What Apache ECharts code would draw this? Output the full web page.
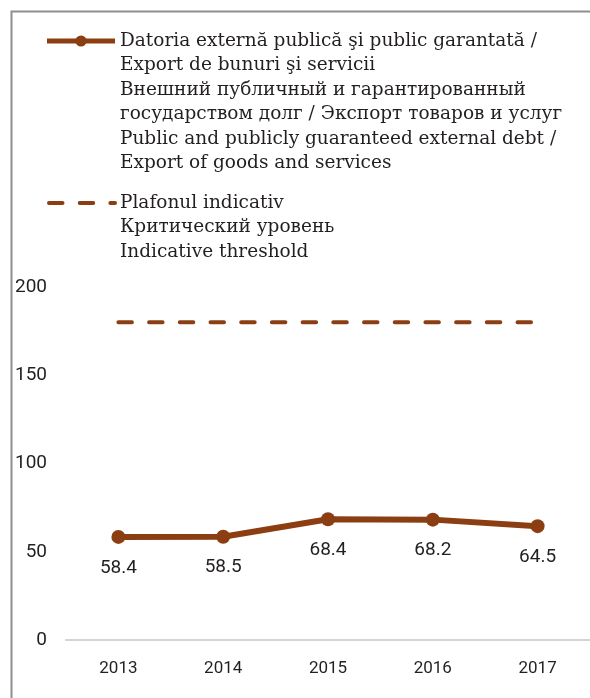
<!DOCTYPE html>
<html>
<head>
<meta charset="utf-8">
<script src="https://cdn.jsdelivr.net/npm/echarts@6/dist/echarts.min.js"></script>
<style>
html,body{margin:0;padding:0;background:#fff;}
#chart{width:590px;height:698px;}
</style>
</head>
<body>
<div id="chart"></div>
<script>
const years = ['2013', '2014', '2015', '2016', '2017'];
const debtToExport = [58.4, 58.5, 68.4, 68.2, 64.5];
const threshold = [180, 180, 180, 180, 180];
const yMin = 0, yMax = 200, yStep = 50;

const debtName = 'Datoria externă publică şi public garantată /\nExport de bunuri şi servicii\nВнешний публичный и гарантированный\nгосударством долг / Экспорт товаров и услуг\nPublic and publicly guaranteed external debt /\nExport of goods and services';
const thresholdName = 'Plafonul indicativ\nКритический уровень\nIndicative threshold';

const brown = '#8b3e12';
const ink = '#231f20';
const LH = 24.5;
const numFont = 'Roboto';
const serif = 'DejaVu Serif';

const chart = echarts.init(document.getElementById('chart'), null, {renderer: 'canvas'});
chart.setOption({
  animation: false,
  backgroundColor: '#fff',
  graphic: [{
    type: 'rect', left: 9, top: 9, silent: true,
    shape: {x: 0, y: 0, width: 700, height: 800},
    style: {fill: 'none', stroke: '#8e8e8e', lineWidth: 2}
  }],
  legend: {
    orient: 'vertical', left: 44.5, top: -93.75, padding: 0,
    itemGap: -34, itemWidth: 68, itemHeight: 14, selectedMode: false,
    formatter: function (name) {
      const n = name.split('\n').length;
      return '\n'.repeat(n - 1) + name;
    },
    textStyle: {fontFamily: serif, fontSize: 18.5, lineHeight: LH, color: ink,
                backgroundColor: 'rgba(0,0,0,0)'},
    data: [
      {name: debtName, lineStyle: {width: 5}},
      {name: thresholdName,
       itemStyle: {opacity: 0},
       lineStyle: {width: 4, type: [13.5, 17.2], cap: 'round', dashOffset: 28.7}}
    ]
  },
  grid: {left: 66, top: 287, width: 531, height: 353, containLabel: false},
  xAxis: {
    type: 'category', data: years, boundaryGap: true,
    axisLine: {lineStyle: {color: '#d4d4d4', width: 2}},
    axisTick: {show: false},
    axisLabel: {margin: 19, fontFamily: numFont, fontSize: 17, lineHeight: 20, color: ink}
  },
  yAxis: {
    type: 'value', min: yMin, max: yMax, interval: yStep,
    axisLine: {show: false}, axisTick: {show: false}, splitLine: {show: false},
    axisLabel: {margin: 19, fontFamily: numFont, fontSize: 19, color: ink, align: 'right'}
  },
  series: [
    {
      name: debtName, type: 'line', data: debtToExport,
      symbol: 'circle', symbolSize: 14,
      lineStyle: {color: brown, width: 6},
      itemStyle: {color: brown},
      label: {show: true, position: 'bottom', distance: 14, fontFamily: numFont,
              fontSize: 19, lineHeight: 20, color: ink,
              formatter: p => p.value.toFixed(1)},
      z: 3
    },
    {
      name: thresholdName, type: 'line', data: threshold,
      symbol: 'none', silent: true,
      lineStyle: {color: brown, width: 4, type: [13.5, 17.2], cap: 'round'},
      itemStyle: {color: brown},
      z: 2
    }
  ]
});
</script>
</body>
</html>
